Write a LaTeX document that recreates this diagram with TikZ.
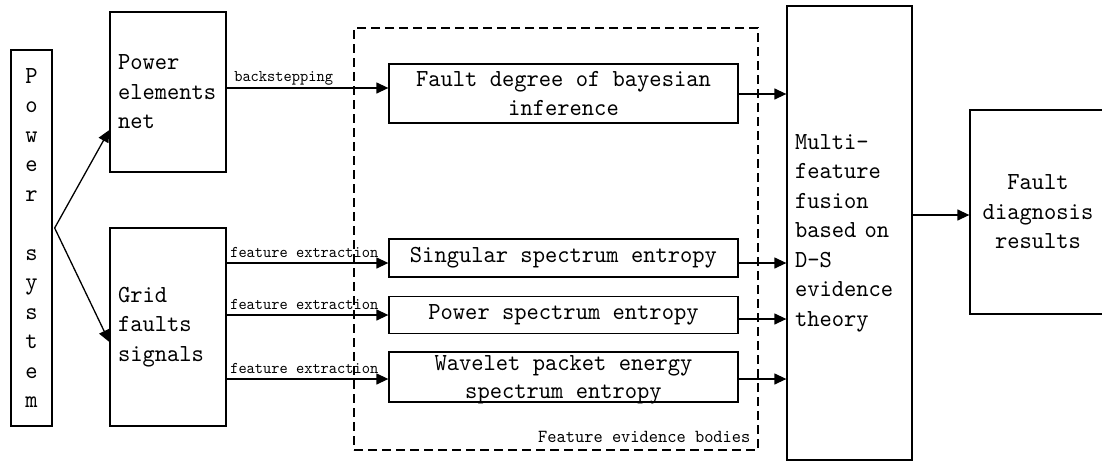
\documentclass[tikz,border=0pt]{standalone}
\usepackage{fontspec}
\newfontfamily\monof{lmmono10-regular}[Extension=.otf, FakeStretch=0.955]
\usetikzlibrary{arrows.meta,calc}
\tikzset{
  box/.style={draw, line width=1.3pt, inner sep=0pt, font=\monof\fontsize{24.5}{29.5}\selectfont},
  leftbox/.style={box, align=left, inner xsep=8pt},
  midbox/.style={box, align=center},
  arr/.style={line width=1.3pt, -{Triangle[length=12pt,width=11pt]}},
  lab/.style={font=\monof\fontsize{16.4}{18}\selectfont, inner sep=0pt},
  dbox/.style={draw, line width=1.2pt, dash pattern=on 9pt off 5pt, inner sep=0pt},
}
\begin{document}
\begin{tikzpicture}[x=1pt,y=-1pt]
\useasboundingbox (0,0) rectangle (1102,461);
\clip (0,0) rectangle (1102,461);
\fill[white] (0,0) rectangle (1102,461);
% dashed group
\node[dbox, minimum width=404pt, minimum height=422pt] (evid) at (556,239) {};
\node[lab, font=\monof\fontsize{18.4}{20}\selectfont, anchor=base east] (evidlab) at ($(evid.south east)+(-8,-8)$) {Feature evidence bodies};
% boxes
\node[midbox, minimum width=41pt, minimum height=376pt] (ps) at (31.5,238) {P\\o\\w\\e\\r\\[29.5pt]s\\y\\s\\t\\e\\m};
\node[leftbox, text width=100pt, minimum width=116pt, minimum height=160pt] (pen) at (168,92) {Power\\elements\\net};
\node[leftbox, text width=100pt, minimum width=116pt, minimum height=198pt] (grid) at (168,327) {Grid\\faults\\signals};
\node[midbox, minimum width=349pt, minimum height=59pt] (fault) at (563.5,93.5) {Fault degree of bayesian\\inference};
\node[midbox, minimum width=349pt, minimum height=38pt] (sing) at (563.5,258) {Singular spectrum entropy};
\node[midbox, minimum width=349pt, minimum height=37pt] (pow) at (563.5,315) {Power spectrum entropy};
\node[midbox, minimum width=349pt, minimum height=50pt] (wave) at (563.5,377) {};
\node[align=center, inner sep=0pt, font=\monof\fontsize{24.5}{28}\selectfont] (wavetxt) at ($(wave.center)+(0,3)$) {Wavelet packet energy\\spectrum entropy};
\node[leftbox, text width=109pt, minimum width=125pt, minimum height=454pt] (multi) at (849.5,233) {Multi-\\feature\\fusion\\based on\\D-S\\evidence\\theory};
\node[midbox, minimum width=136pt, minimum height=204pt] (res) at (1038,212) {Fault\\diagnosis\\results};
% branch
\coordinate (br) at ($(ps.east)+(2,-10)$);
\draw[arr] (br) -- ($(pen.west)+(0,38)$);
\draw[arr] (br) -- ($(grid.west)+(0,15)$);
% inputs
\draw[arr] ($(pen.east)+(0,-4)$) -- ($(pen.east -| fault.west)+(0,-4)$)
  node[lab, pos=0, anchor=base west, xshift=7pt, yshift=7pt] {backstepping};
\draw[arr] ($(sing.west -| grid.east)+(0,5)$) -- ($(sing.west)+(0,5)$)
  node[lab, pos=0, anchor=base west, xshift=3pt, yshift=6pt] {feature extraction};
\draw[arr] ($(pow.west -| grid.east)+(0,0)$) -- ($(pow.west)+(0,0)$)
  node[lab, pos=0, anchor=base west, xshift=3pt, yshift=6pt] {feature extraction};
\draw[arr] ($(wave.west -| grid.east)+(0,2)$) -- ($(wave.west)+(0,2)$)
  node[lab, pos=0, anchor=base west, xshift=3pt, yshift=6pt] {feature extraction};
% outputs
\draw[arr] ($(fault.east)+(0,0.5)$) -- ($(fault.east -| multi.west)+(0,0.5)$);
\draw[arr] ($(sing.east)+(0,5)$) -- ($(sing.east -| multi.west)+(0,5)$);
\draw[arr] ($(pow.east)+(0,4)$) -- ($(pow.east -| multi.west)+(0,4)$);
\draw[arr] ($(wave.east)+(0,2)$) -- ($(wave.east -| multi.west)+(0,2)$);
\draw[arr] ($(res.west -| multi.east)+(0,3)$) -- ($(res.west)+(0,3)$);
\end{tikzpicture}
\end{document}
